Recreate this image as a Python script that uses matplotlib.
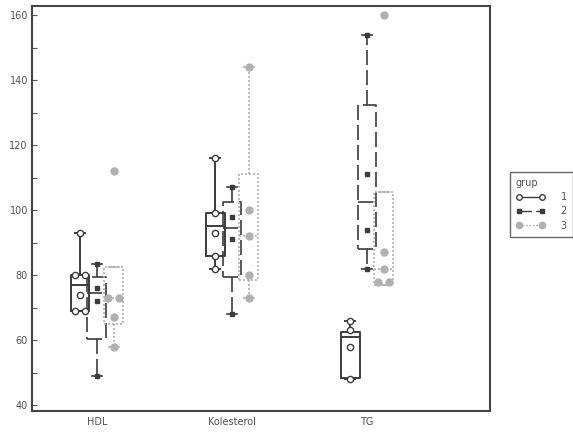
import matplotlib
matplotlib.use("Agg")
import matplotlib.pyplot as plt
from matplotlib.lines import Line2D
import numpy as np

categories = ["HDL", "Kolesterol", "TG"]
groups = ["1", "2", "3"]

# box stats per group, one value per category
g1_whislo = [69, 82, 48]
g1_q1 = [69, 86, 48.5]
g1_med = [77, 95, 61]
g1_q3 = [80, 99, 62.5]
g1_whishi = [93, 116, 66]
g1_points = [[69, 69, 74, 80, 80, 93], [82, 86, 93, 99, 116], [48, 58, 63, 66]]
g1_fliers = [[], [], []]

g2_whislo = [49, 68, 82]
g2_q1 = [60.5, 79.5, 88]
g2_med = [74.5, 94.5, 102.5]
g2_q3 = [79.5, 102.5, 132.5]
g2_whishi = [83.5, 107, 154]
g2_points = [[49, 72, 76, 83.5], [68, 91, 98, 107], [82, 94, 111, 154]]
g2_fliers = [[], [], []]

g3_whislo = [58, 73, 77]
g3_q1 = [65, 78.5, 77]
g3_med = [73, 92, 82]
g3_q3 = [82.5, 111, 105.5]
g3_whishi = [82.5, 144, 105.5]
g3_points = [[58, 67, 73, 73], [73, 80, 92, 100, 144], [78, 78, 82, 87]]
g3_fliers = [[112], [], [160]]

DARK = "#3c3c3c"
GRAY = "#b0b0b0"

styles = [
    dict(color=DARK, ls="-", lw=1.4, marker="o", mfc="white", mec=DARK, ms=4.5),
    dict(color=DARK, ls=(0, (9, 3)), lw=1.2, marker="s", mfc=DARK, mec=DARK, ms=3.5),
    dict(color=GRAY, ls=(0, (1.2, 1.2)), lw=1.2, marker="o", mfc=GRAY, mec=GRAY, ms=5),
]

group_data = [
    (g1_whislo, g1_q1, g1_med, g1_q3, g1_whishi, g1_points, g1_fliers),
    (g2_whislo, g2_q1, g2_med, g2_q3, g2_whishi, g2_points, g2_fliers),
    (g3_whislo, g3_q1, g3_med, g3_q3, g3_whishi, g3_points, g3_fliers),
]

fig = plt.figure(figsize=(5.73, 4.34), dpi=100)
ax = fig.add_axes([0.056, 0.053, 0.799, 0.933])

offsets = [-0.125, 0.0, 0.125]
box_w = 0.14
base = np.arange(1, len(categories) + 1)

for gi, (wlo, q1, med, q3, whi, pts, fl) in enumerate(group_data):
    st = styles[gi]
    stats = [dict(whislo=wlo[i], q1=q1[i], med=med[i], q3=q3[i], whishi=whi[i],
                  fliers=[]) for i in range(len(categories))]
    pos = base + offsets[gi]
    lp = dict(color=st["color"], linestyle=st["ls"], linewidth=st["lw"])
    ax.bxp(stats, positions=pos, widths=box_w, showfliers=False,
           boxprops=lp, whiskerprops=lp, medianprops=lp,
           capprops=dict(color=st["color"], linewidth=st["lw"]),
           capwidths=box_w * 0.5, manage_ticks=False)
    for i in range(len(categories)):
        vals = pts[i] + fl[i]
        xs = np.zeros(len(vals))
        # spread repeated values side by side
        for v in set(vals):
            idx = [j for j, w in enumerate(vals) if w == v]
            if len(idx) > 1:
                for j, s in zip(idx, np.linspace(-0.04, 0.04, len(idx))):
                    xs[j] = s
        ax.plot(pos[i] + xs, vals, ls="none", marker=st["marker"],
                mfc=st["mfc"], mec=st["mec"], ms=st["ms"], mew=1.0, zorder=4)

ax.set_xlim(0.52, 3.91)
ax.set_ylim(38.2, 162.8)
ax.set_xticks(base)
ax.set_xticklabels(categories, fontsize=7, color="#505050")
ax.tick_params(axis="x", length=0, pad=4)
ax.set_yticks(np.arange(40, 161, 20))
ax.set_yticks(np.arange(50, 160, 20), minor=True)
ax.tick_params(axis="y", which="both", direction="in", length=3.5, width=0.8,
               color="#555555", labelsize=7, labelcolor="#505050", pad=3)
for sp in ax.spines.values():
    sp.set_linewidth(1.5)
    sp.set_color("#444444")

handles = [Line2D([0], [0], color=s["color"], ls=s["ls"], lw=1.0, marker=s["marker"],
                  mfc=s["mfc"], mec=s["mec"], ms=s["ms"] - 0.5) for s in styles]
leg = fig.legend(handles, groups, title="grup", loc="upper left",
                 bbox_to_anchor=(0.890, 0.604), borderaxespad=0, fontsize=7,
                 title_fontsize=7, fancybox=False, edgecolor="#444444", numpoints=2,
                 handlelength=3.0, borderpad=0.6, labelspacing=0.45,
                 handletextpad=1.6)
leg._legend_box.align = "left"
leg.get_frame().set_linewidth(1.0)
leg.get_title().set_color("#505050")
for t in leg.get_texts():
    t.set_color("#505050")

fig.savefig("out.png", dpi=100)
